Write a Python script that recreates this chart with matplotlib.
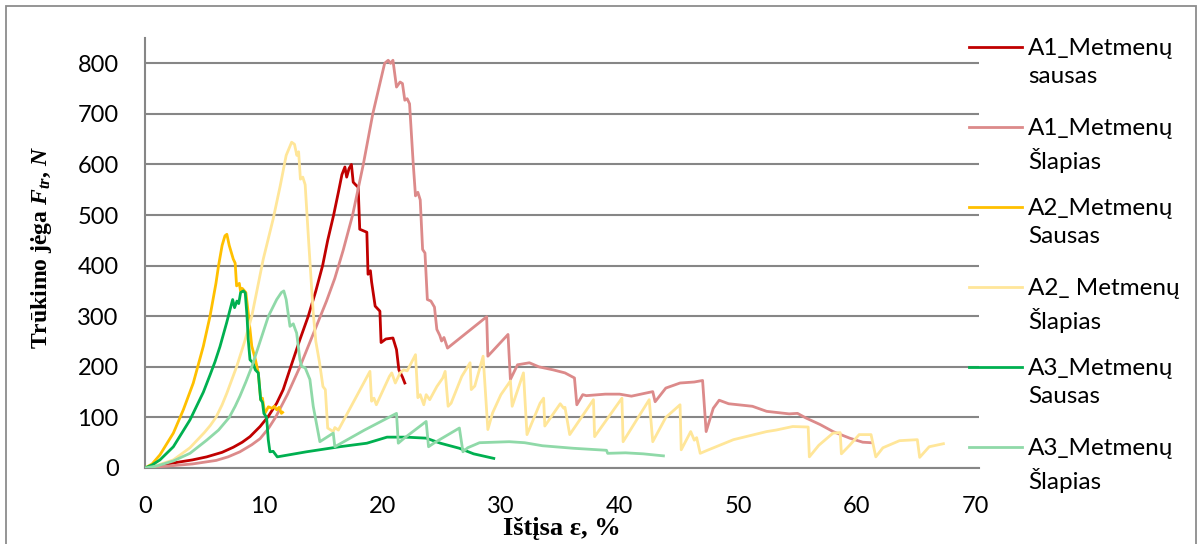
import matplotlib
matplotlib.use('Agg')
import matplotlib.pyplot as plt
from matplotlib.lines import Line2D
from matplotlib.patches import Rectangle

# breaking force vs. elongation, warp direction, dry and wet samples
a1_dry_x = [0, 1.0, 2.4, 4.0, 5.2, 6.5, 7.44, 8.2, 8.85, 9.7, 10.39, 11.1, 11.65, 12.2, 13.06, 13.76,
            14.4, 14.97, 15.4, 15.9, 16.3, 16.6, 16.85, 17.0, 17.2, 17.4, 17.55, 17.75, 17.97, 18.1,
            18.7, 18.8, 19.0, 19.1, 19.4, 19.8, 19.9, 20.3, 20.9, 21.2, 21.4, 21.7, 21.9]
a1_dry_y = [0, 4, 10, 16, 22, 31, 41, 51, 62, 82, 102, 128, 155, 194, 254, 300,
            350, 400, 450, 500, 545, 580, 595, 575, 592, 600, 565, 560, 555, 472,
            466, 383, 390, 368, 320, 310, 248, 255, 257, 234, 194, 180, 168]

a1_wet_x = [0, 2, 4, 6, 7, 8, 9, 9.7, 10.4, 11.0, 12.0, 13.06, 14.18, 15.3, 16.0, 16.7, 17.5, 18.4,
            19.2, 20.2, 20.5, 20.7, 20.9, 21.2, 21.5, 21.7, 21.9, 22.1, 22.3, 22.6, 22.8, 23.0, 23.2,
            23.4, 23.6, 23.8, 24.1, 24.4, 24.6, 24.85, 25.0, 25.2, 25.5, 28.8, 28.9, 30.6, 30.8, 31.4,
            32.4, 33.2, 34.4, 35.4, 36.2, 36.4, 36.9, 37.2, 38.8, 40.0, 41.0, 42.8, 43.0, 43.9, 45.1,
            46.3, 47.0, 47.3, 47.9, 48.4, 49.2, 51.2, 52.4, 54.3, 55.0, 55.7, 56.9, 58.0, 59.4, 60.5,
            61.2]
a1_wet_y = [0, 4, 8, 15, 22, 32, 46, 58, 78, 100, 145, 200, 265, 330, 375, 430, 500, 600,
            700, 800, 806, 800, 806, 753, 763, 760, 727, 730, 720, 605, 538, 545, 530,
            432, 425, 333, 330, 318, 274, 262, 251, 258, 237, 299, 221, 264, 175, 204,
            208, 200, 194, 188, 178, 125, 145, 143, 146, 146, 142, 151, 131, 158, 168,
            170, 173, 72, 118, 134, 127, 122, 112, 107, 108, 99, 86, 72, 59, 51,
            50]

a2_dry_x = [0, 0.6, 1.26, 2.39, 3.23, 4.07, 4.92, 5.48, 5.98, 6.2, 6.5, 6.74, 6.9, 7.1, 7.44, 7.6,
            7.72, 7.95, 8.05, 8.2, 8.5, 8.7, 9.0, 9.3, 9.55, 9.75, 9.9, 10.1, 10.4, 10.7, 10.9, 11.1,
            11.3, 11.5, 11.6]
a2_dry_y = [0, 8, 26, 69, 115, 168, 241, 300, 365, 400, 440, 459, 462, 440, 413, 405,
            360, 365, 350, 355, 347, 307, 241, 215, 188, 135, 138, 108, 121, 118, 122, 115,
            120, 108, 110]

a2_wet_x = [0, 1.0, 2.39, 3.79, 5.0, 5.5, 5.98, 6.5, 6.9, 7.72, 8.4, 9.0, 9.97, 10.8, 11.4, 11.9,
            12.36, 12.6, 12.8, 12.95, 13.1, 13.3, 13.5, 13.8, 14.18, 14.4, 14.7, 15.0, 15.2, 15.4,
            15.87, 16.0, 16.3, 18.96, 19.1, 19.3, 19.5, 20.6, 20.8, 21.1, 21.5, 21.8, 22.1, 22.8,
            23.0, 23.2, 23.5, 23.7, 24.0, 24.6, 25.1, 25.3, 25.55, 25.8, 26.7, 27.4, 27.5, 27.8,
            28.5, 28.9, 29.3, 30.0, 30.8, 30.95, 31.9, 32.2, 33.3, 33.6, 33.7, 35.0, 35.3, 35.4,
            35.8, 37.8, 37.9, 40.2, 40.3, 42.5, 42.8, 43.9, 45.1, 45.2, 46.0, 46.3, 46.5, 46.8,
            47.4, 49.6, 52.4, 53.2, 54.6, 55.9, 56.0, 56.8, 58.0, 58.6, 58.7, 59.4, 60.2, 61.2,
            61.6, 62.2, 63.6, 65.1, 65.3, 66.1, 67.3]
a2_wet_y = [0, 5, 16, 40, 70, 84, 100, 125, 148, 200, 250, 300, 413, 492, 558, 618,
            644, 640, 618, 625, 571, 575, 560, 446, 307, 250, 210, 161, 155, 79,
            72, 80, 75, 191, 132, 138, 125, 181, 188, 168, 188, 194, 192, 224,
            139, 145, 125, 145, 135, 161, 178, 191, 122, 128, 181, 208, 155, 162,
            221, 76, 109, 145, 172, 122, 188, 66, 128, 138, 83, 127, 118, 120,
            66, 135, 62, 138, 52, 135, 52, 100, 125, 36, 72, 55, 60, 29,
            35, 56, 72, 75, 82, 81, 22, 45, 69, 70, 28, 45, 66, 66,
            22, 40, 54, 56, 21, 42, 48]

a3_dry_x = [0, 0.6, 1.26, 2.39, 3.79, 4.92, 5.5, 5.9, 6.32, 6.88, 7.39, 7.55, 7.75, 7.9, 8.06, 8.3,
            8.45, 8.6, 8.7, 8.85, 9.1, 9.3, 9.55, 9.75, 9.9, 10.02, 10.25, 10.39, 10.53, 10.8, 11.15,
            13.6, 16.4, 18.7, 20.4, 22.0, 23.7, 24.9, 26.5, 27.7, 29.4]
a3_dry_y = [0, 6, 16, 42, 95, 150, 185, 210, 240, 287, 333, 317, 330, 325, 347, 350,
            346, 300, 254, 214, 208, 194, 188, 135, 130, 108, 100, 56, 32, 33, 22,
            32, 42, 49, 61, 61, 59, 49, 39, 28, 19]

a3_wet_x = [0, 1.0, 2.39, 3.79, 5.2, 6.2, 7.1, 7.6, 8.0, 8.5, 9.0, 9.7, 10.4, 11.1, 11.5, 11.7, 11.9,
            12.22, 12.5, 12.65, 12.78, 13.06, 13.2, 13.5, 13.9, 14.18, 14.74, 15.87, 16.0, 18.5,
            21.2, 21.35, 21.8, 23.7, 23.9, 24.4, 26.5, 26.8, 27.2, 28.2, 30.7, 32.0, 33.5, 36.1,
            38.9, 39.0, 40.5, 42.0, 43.7]
a3_wet_y = [0, 4, 14, 29, 55, 75, 100, 122, 142, 170, 200, 250, 300, 333, 347, 350, 333,
            280, 285, 275, 267, 214, 201, 198, 175, 122, 52, 69, 42, 75,
            108, 49, 58, 92, 42, 50, 79, 32, 40, 50, 52, 50, 44, 39,
            35, 29, 30, 28, 24]

labels = ['A1_Metmenų\nsausas', 'A1_Metmenų\nŠlapias', 'A2_Metmenų\nSausas',
          'A2_ Metmenų\nŠlapias', 'A3_Metmenų\nSausas', 'A3_Metmenų\nŠlapias']
colors = ['#C00000', '#DC8A8A', '#FFC000', '#FFE699', '#00B050', '#8FD9A8']

plt.rcParams['font.family'] = 'Lato'
plt.rcParams['mathtext.fontset'] = 'custom'
plt.rcParams['mathtext.it'] = 'Liberation Serif:italic:bold'
plt.rcParams['mathtext.rm'] = 'Liberation Serif:bold'

W, H = 1203, 544
fig = plt.figure(figsize=(W / 100, H / 100), dpi=100)
ax = fig.add_axes([145 / W, 1 - 468 / H, (979 - 145) / W, (468 - 38) / H])

data = [(a1_dry_x, a1_dry_y), (a1_wet_x, a1_wet_y), (a2_dry_x, a2_dry_y),
        (a2_wet_x, a2_wet_y), (a3_dry_x, a3_dry_y), (a3_wet_x, a3_wet_y)]
for i, (x, y) in enumerate(data):
    ax.plot(x, y, color=colors[i], lw=2.0, solid_joinstyle='round', zorder=3 + i)

ax.set_xlim(0, 70.3)
ax.set_ylim(0, 850)
ax.set_xticks(range(0, 71, 10))
ax.set_yticks(range(0, 801, 100))
ax.grid(axis='y', color='#868686', lw=1.5)
ax.set_axisbelow(True)
for s in ['top', 'right']:
    ax.spines[s].set_visible(False)
for s in ['left', 'bottom']:
    ax.spines[s].set_color('#868686')
    ax.spines[s].set_linewidth(1.5)
ax.tick_params(axis='both', length=0, labelsize=17)
ax.tick_params(axis='y', pad=19)
ax.tick_params(axis='x', pad=20)

ax.set_xlabel('Ištįsa ε, %', family='Liberation Serif', weight='bold', fontsize=19)
ax.xaxis.label.set_va('center')
ax.xaxis.set_label_coords(0.5, (468 - 529) / 430)
ax.set_ylabel('Trūkimo jėga $F_{tr}$, $N$', family='Liberation Serif', weight='bold', fontsize=17)
ax.yaxis.label.set_va('center')
ax.yaxis.set_label_coords((42 - 145) / 834, (468 - 247) / 430)

# legend on the right, two-line entries
for i, lab in enumerate(labels):
    yl = 47.3 + 80 * i
    fig.add_artist(Line2D([969 / W, 1022 / W], [1 - yl / H, 1 - yl / H],
                          color=colors[i], lw=2.0, transform=fig.transFigure))
    fig.text(1028 / W, 1 - (yl - 9) / H, lab, fontsize=17.5, va='top', ha='left',
             linespacing=1.42)

fig.add_artist(Rectangle((6 / W, -0.05), (1196 - 6) / W, 1.05 - 6 / H, fill=False,
                         edgecolor='#8c8c8c', lw=1.3, transform=fig.transFigure))

fig.savefig('out.png', dpi=100)
